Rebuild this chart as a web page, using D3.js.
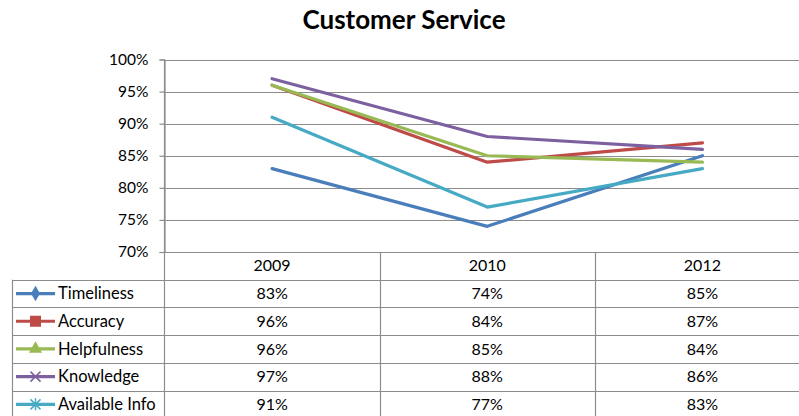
<!DOCTYPE html>
<html>
<head>
<meta charset="utf-8">
<script src="https://cdn.jsdelivr.net/npm/d3@7"></script>
<style>
  body { margin: 0; background: #fff; }
  svg { display: block; font-family: "Lato", "Liberation Sans", sans-serif; }
</style>
</head>
<body>
<div id="chart"></div>
<script>
const years = ["2009", "2010", "2012"];
const seriesNames = ["Timeliness", "Accuracy", "Helpfulness", "Knowledge", "Available Info"];
const timeliness = [83, 74, 85];
const accuracy = [96, 84, 87];
const helpfulness = [96, 85, 84];
const knowledge = [97, 88, 86];
const availableInfo = [91, 77, 83];
const yTicks = [70, 75, 80, 85, 90, 95, 100];
const colors = ["#4a7ebb", "#be4b48", "#98b954", "#7d60a0", "#46aac5"];
const markers = ["diamond", "square", "triangle", "x", "star"];

const seriesValues = [timeliness, accuracy, helpfulness, knowledge, availableInfo];

const width = 799, height = 416;
const margin = { top: 59.5, left: 164.5, bottom: 252 };
const plotRight = 810;
const rowH = 27.7;

const svg = d3.select("#chart").append("svg")
  .attr("width", width)
  .attr("height", height);

const x = d3.scaleBand().domain(years).range([margin.left, plotRight]).padding(0);
const y = d3.scaleLinear().domain([70, 100]).range([margin.bottom, margin.top]);

// title
svg.append("text")
  .attr("x", 404)
  .attr("y", 29)
  .attr("text-anchor", "middle")
  .style("font-size", "26px")
  .style("font-weight", "bold")
  .text("Customer Service");

// gridlines
svg.append("g")
  .selectAll("line")
  .data(yTicks)
  .enter()
  .append("line")
  .attr("x1", margin.left)
  .attr("x2", plotRight)
  .attr("y1", d => Math.round(y(d)) + 0.5)
  .attr("y2", d => Math.round(y(d)) + 0.5)
  .attr("stroke", "#8c8c8c")
  .attr("stroke-width", 1.2);

// y axis
const yAxis = svg.append("g")
  .attr("transform", "translate(" + margin.left + ",0)")
  .call(d3.axisLeft(y).tickValues(yTicks).tickSize(5).tickFormat(d => d + "%"));
yAxis.select(".domain").attr("stroke", "#8c8c8c").attr("stroke-width", 1.2);
yAxis.selectAll(".tick line").attr("stroke", "#8c8c8c").attr("stroke-width", 1.2);
yAxis.selectAll(".tick text")
  .attr("x", -16)
  .style("font-size", "15.5px")
  .style("font-family", "Lato, sans-serif")
  .attr("fill", "#000");
// extend axis line down to table
svg.append("line")
  .attr("x1", margin.left).attr("x2", margin.left)
  .attr("y1", margin.top).attr("y2", height)
  .attr("stroke", "#8c8c8c").attr("stroke-width", 1.2);

// lines
const line = d3.line()
  .x((d, i) => x(years[i]) + x.bandwidth() / 2)
  .y(d => y(d));

svg.append("g")
  .selectAll("path")
  .data(seriesValues)
  .enter()
  .append("path")
  .attr("d", line)
  .attr("fill", "none")
  .attr("stroke", (d, i) => colors[i])
  .attr("stroke-width", 3.2)
  .attr("stroke-linejoin", "round")
  .attr("stroke-linecap", "round");

// data table
const table = svg.append("g");
const tableTop = margin.bottom;
const tableLeft = 12.5;
const gridColor = "#8c8c8c";

// horizontal lines
for (let r = 1; r <= seriesNames.length + 1; r++) {
  table.append("line")
    .attr("x1", tableLeft)
    .attr("x2", plotRight)
    .attr("y1", Math.round(tableTop + r * rowH) + 0.5)
    .attr("y2", Math.round(tableTop + r * rowH) + 0.5)
    .attr("stroke", gridColor)
    .attr("stroke-width", 1.2);
}
// vertical lines
table.selectAll(".vline")
  .data(years.slice(1))
  .enter()
  .append("line")
  .attr("x1", d => Math.round(x(d)) + 0.5)
  .attr("x2", d => Math.round(x(d)) + 0.5)
  .attr("y1", tableTop)
  .attr("y2", height)
  .attr("stroke", gridColor)
  .attr("stroke-width", 1.2);
table.append("line")
  .attr("x1", tableLeft).attr("x2", tableLeft)
  .attr("y1", tableTop + rowH).attr("y2", height)
  .attr("stroke", gridColor).attr("stroke-width", 1.2);

// header
table.selectAll(".hdr")
  .data(years)
  .enter()
  .append("text")
  .attr("x", d => x(d) + x.bandwidth() / 2)
  .attr("y", tableTop + rowH / 2)
  .attr("dy", "0.35em")
  .attr("text-anchor", "middle")
  .style("font-size", "16px")
  .text(d => d);

// rows
seriesNames.forEach((name, i) => {
  const cy = tableTop + rowH * (i + 1.5);
  const g = table.append("g");
  g.append("line")
    .attr("x1", 16).attr("x2", 55)
    .attr("y1", cy).attr("y2", cy)
    .attr("stroke", colors[i])
    .attr("stroke-width", 3.2);
  const mx = 35.5;
  const c = colors[i];
  if (markers[i] === "diamond") {
    g.append("path").attr("d", d3.symbol(d3.symbolDiamond, 70)()).attr("transform", `translate(${mx},${cy})`).attr("fill", c);
  } else if (markers[i] === "square") {
    g.append("rect").attr("x", mx - 5.5).attr("y", cy - 5.5).attr("width", 11).attr("height", 11).attr("fill", c);
  } else if (markers[i] === "triangle") {
    g.append("path").attr("d", d3.symbol(d3.symbolTriangle, 75)()).attr("transform", `translate(${mx},${cy})`).attr("fill", c);
  } else if (markers[i] === "x") {
    g.append("path").attr("d", `M${mx - 5},${cy - 5}L${mx + 5},${cy + 5}M${mx - 5},${cy + 5}L${mx + 5},${cy - 5}`).attr("stroke", c).attr("stroke-width", 1.5);
  } else {
    g.append("path").attr("d", `M${mx - 5},${cy - 5}L${mx + 5},${cy + 5}M${mx - 5},${cy + 5}L${mx + 5},${cy - 5}M${mx},${cy - 6}L${mx},${cy + 6}`).attr("stroke", c).attr("stroke-width", 1.5);
  }
  g.append("text")
    .attr("x", 58)
    .attr("y", cy)
    .attr("dy", "0.35em")
    .style("font-size", "16.5px")
    .text(name);
  seriesValues[i].forEach((v, j) => {
    table.append("text")
      .attr("x", x(years[j]) + x.bandwidth() / 2)
      .attr("y", cy)
      .attr("dy", "0.35em")
      .attr("text-anchor", "middle")
      .style("font-size", "16px")
      .text(v + "%");
  });
});
</script>
</body>
</html>
